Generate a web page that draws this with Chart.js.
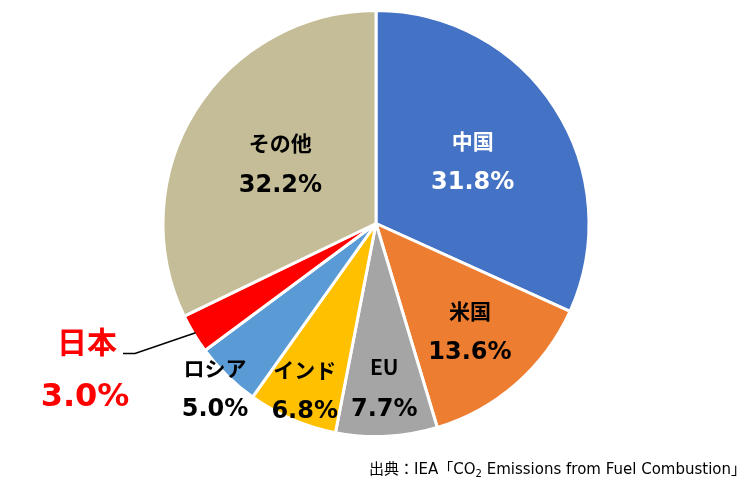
<!DOCTYPE html>
<html>
<head>
<meta charset="utf-8">
<script src="https://cdn.jsdelivr.net/npm/chart.js@4.4.0/dist/chart.umd.min.js"></script>
<style>
  html, body { margin: 0; padding: 0; background: #fff; }
  #wrap { width: 749px; height: 483px; position: relative; }
</style>
</head>
<body>
<div id="wrap"><canvas id="myChart"></canvas></div>
<script>
// data, clockwise from 12 o'clock
const countries = ['中国', '米国', 'EU', 'インド', 'ロシア', '日本', 'その他']
const shares = [31.8, 13.6, 7.7, 6.8, 5.0, 3.0, 32.2]
const sliceColors = ['#4472C4', '#ED7D31', '#A5A5A5', '#FFC000', '#5B9BD5', '#FF0000', '#C4BD97']
const sourceNote = ['出典：IEA「CO', '2', ' Emissions from Fuel Combustion」']

// label placement: fraction of radius from centre, text colour
const labelRadius = [0.54, 0.67, 0.77, 0.85, 1.08, null, 0.53]
const labelColors = ['#fff', '#000', '#000', '#000', '#000', '#FF0000', '#000']

const CJK = '"Noto Sans CJK JP", sans-serif'
const NUM = '"DejaVu Sans", sans-serif'
const NOTE = '"DejaVu Sans", "Noto Sans CJK JP", sans-serif'

const sliceLabels = {
  id: 'sliceLabels',
  afterDatasetsDraw(chart) {
    const ctx = chart.ctx
    const arcs = chart.getDatasetMeta(0).data
    ctx.save()
    ctx.textAlign = 'center'
    ctx.textBaseline = 'middle'
    arcs.forEach((arc, i) => {
      const {x, y, startAngle, endAngle, outerRadius} = arc.getProps(['x', 'y', 'startAngle', 'endAngle', 'outerRadius'], true)
      const mid = (startAngle + endAngle) / 2
      const value = shares[i].toFixed(1) + '%'
      if (labelRadius[i] === null) {
        // 日本: outside label with leader line
        const px = x + Math.cos(mid) * outerRadius * 0.99
        const py = y + Math.sin(mid) * outerRadius * 0.99
        ctx.strokeStyle = '#000'
        ctx.lineWidth = 1.5
        ctx.beginPath()
        ctx.moveTo(px, py)
        ctx.lineTo(x - 241, y + 130)
        ctx.lineTo(x - 253, y + 130)
        ctx.stroke()
        ctx.fillStyle = labelColors[i]
        ctx.font = 'bold 30px ' + CJK
        ctx.fillText(countries[i], x - 289, y + 118)
        ctx.font = 'bold 32px ' + NUM
        ctx.fillText(value, x - 291, y + 174)
        return
      }
      const cx = x + Math.cos(mid) * outerRadius * labelRadius[i]
      const cy = y + Math.sin(mid) * outerRadius * labelRadius[i]
      ctx.fillStyle = labelColors[i]
      ctx.font = 'bold 21px ' + CJK
      ctx.fillText(countries[i], cx, cy - 20)
      ctx.font = 'bold 24px ' + NUM
      ctx.fillText(value, cx, cy + 22)
    })
    ctx.restore()
  }
}

const sourceText = {
  id: 'sourceText',
  afterDraw(chart) {
    const ctx = chart.ctx
    ctx.save()
    ctx.fillStyle = '#000'
    ctx.textBaseline = 'alphabetic'
    ctx.textAlign = 'left'
    const bigFont = '15px ' + NOTE
    const subFont = '10px ' + NOTE
    ctx.font = bigFont
    const w0 = ctx.measureText(sourceNote[0]).width
    const w2 = ctx.measureText(sourceNote[2]).width
    ctx.font = subFont
    const w1 = ctx.measureText(sourceNote[1]).width
    let xPos = 746 - (w0 + w1 + w2)
    const base = 474
    ctx.font = bigFont
    ctx.fillText(sourceNote[0], xPos, base)
    xPos += w0
    ctx.font = subFont
    ctx.fillText(sourceNote[1], xPos, base + 3)
    xPos += w1
    ctx.font = bigFont
    ctx.fillText(sourceNote[2], xPos, base)
    ctx.restore()
  }
}

const ctx = document.getElementById('myChart')
const myChart = new Chart(ctx, {
  type: 'pie',
  data: {
    labels: countries,
    datasets: [{
      data: shares,
      backgroundColor: sliceColors,
      borderColor: '#fff',
      borderWidth: 3
    }]
  },
  options: {
    responsive: true,
    maintainAspectRatio: false,
    animation: false,
    radius: 213,
    layout: { padding: { top: 9, bottom: 45, left: 3, right: 0 } },
    plugins: {
      legend: { display: false },
      tooltip: { enabled: false }
    }
  },
  plugins: [sliceLabels, sourceText]
})
</script>
</body>
</html>
